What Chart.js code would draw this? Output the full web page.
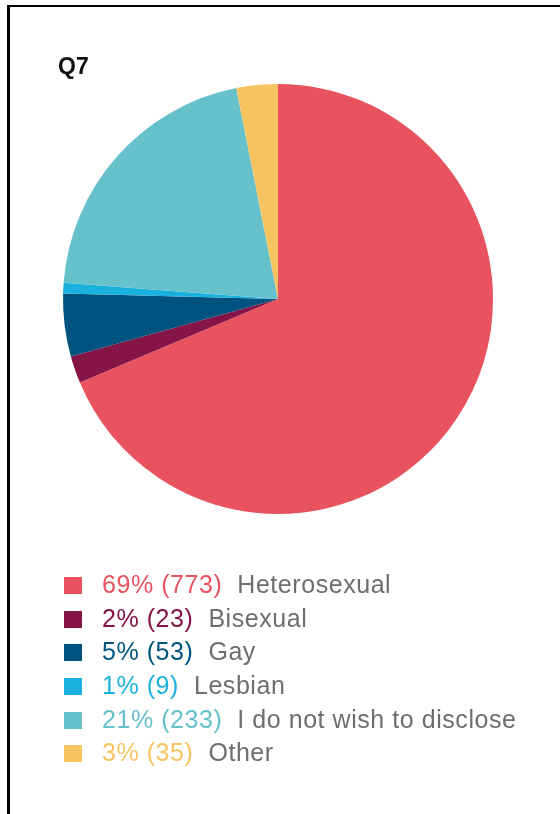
<!DOCTYPE html>
<html>
<head>
<meta charset="utf-8">
<script src="https://cdn.jsdelivr.net/npm/chart.js@4"></script>
<style>
  body { margin: 0; background: #fff; width: 560px; height: 814px; overflow: hidden; position: relative; font-family: "Liberation Sans", Arial, sans-serif; }
  .frame { position: absolute; left: 7px; top: 5px; width: 600px; height: 900px; border-left: 3px solid #000; border-top: 2.5px solid #000; }
  #chart { position: absolute; left: 0; top: 0; }
  .title { position: absolute; left: 58px; top: 53px; font-weight: bold; font-size: 23px; color: #111; }
  #legend { position: absolute; left: 64px; top: 570px; }
  .row { height: 33.7px; position: relative; font-size: 25px; letter-spacing: 0.55px; white-space: nowrap; }
  .box { position: absolute; left: 0; top: 7px; width: 18px; height: 17px; }
  .txt { position: absolute; left: 38px; top: -1px; line-height: 30px; }
  .lbl { color: #6e6e6e; margin-left: 15px; }
</style>
</head>
<body>
<div class="frame"></div>
<canvas id="chart" width="560" height="814"></canvas>
<div class="title">Q7</div>
<div id="legend"></div>
<script>
// Q7 data
var labels = ["Heterosexual", "Bisexual", "Gay", "Lesbian", "I do not wish to disclose", "Other"];
var counts = [773, 23, 53, 9, 233, 35];
var percents = [69, 2, 5, 1, 21, 3];
var colors = ["#E8535F", "#861547", "#00537F", "#1BB1DF", "#66C1CB", "#F8C462"];

var ctx = document.getElementById('chart').getContext('2d');

var chart = new Chart(ctx, {
    type: 'pie',
    data: {
        labels: labels,
        datasets: [{
            data: counts,
            backgroundColor: colors,
            borderWidth: 0,
            hoverOffset: 0
        }]
    },
    options: {
        responsive: false,
        animation: false,
        devicePixelRatio: 1,
        layout: { padding: { left: 63, right: 67, top: 84, bottom: 300 } },
        plugins: {
            legend: { display: false },
            tooltip: { enabled: false }
        }
    }
});

// legend: coloured percent and count, grey label
var legend = document.getElementById("legend");
labels.forEach(function (label, i) {
    legend.innerHTML += `
        <div class="row">
            <div class="box" style="background:${colors[i]}"></div>
            <div class="txt"><span style="color:${colors[i]}">${percents[i]}% (${counts[i]})</span><span class="lbl">${label}</span></div>
        </div>
    `;
});
</script>
</body>
</html>
